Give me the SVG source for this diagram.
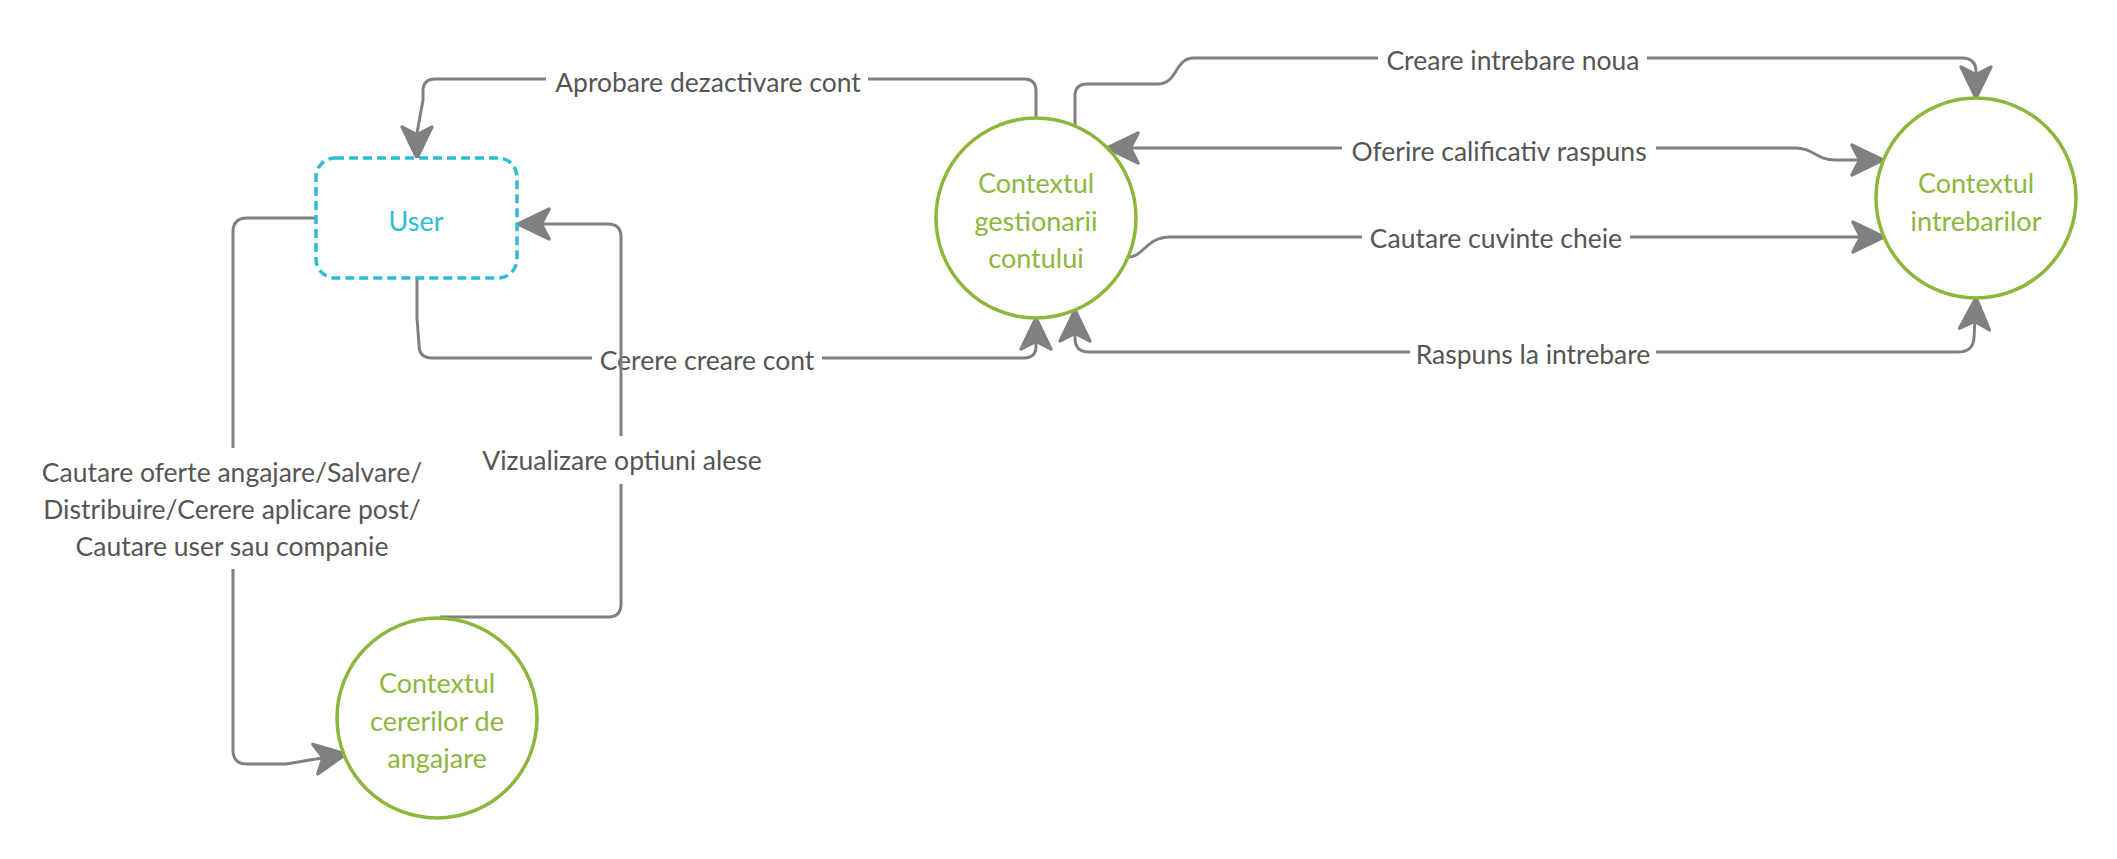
<svg xmlns="http://www.w3.org/2000/svg" width="2117" height="859" viewBox="0 0 2117 859">
<defs>
<marker id="arr" markerUnits="userSpaceOnUse" markerWidth="40" markerHeight="40" viewBox="-32 -17 36 34" refX="0" refY="0" orient="auto-start-reverse">
<path d="M0,0 L-28,-13.5 L-21,0 L-28,13.5 Z" fill="#808080" stroke="#808080" stroke-width="3" stroke-linejoin="round"/>
</marker>
</defs>
<style>
.c{fill:none;stroke:#808080;stroke-width:3;stroke-linejoin:round}
.e{marker-end:url(#arr)}
.s{marker-start:url(#arr)}
.lb{fill:#ffffff;stroke:none}
.t{font-family:Lato,"Noto Sans","Liberation Sans",sans-serif;font-size:26.5px;fill:#555555;text-anchor:middle;dominant-baseline:central}
.g{fill:#ffffff;stroke:#8DB63D;stroke-width:3.5}
.gt{font-family:Lato,"Noto Sans","Liberation Sans",sans-serif;font-size:27px;fill:#8DB63D;text-anchor:middle;dominant-baseline:central}
.u{fill:#ffffff;stroke:#2EBDCF;stroke-width:3.5;stroke-dasharray:9 5}
.ut{font-family:Lato,"Noto Sans","Liberation Sans",sans-serif;font-size:27px;fill:#2EBDCF;text-anchor:middle;dominant-baseline:central}
</style>
<rect width="2117" height="859" fill="#ffffff"/>
<g id="connectors">
<g id="c-aprobare">
<path class="c e" d="M1036,118 V91 Q1036,79 1024,79 H435 Q423,79 423,91 V100 L417,133 V158"/>
<rect class="lb" x="546" y="64" width="322" height="36"/>
<text class="t" x="708" y="82">Aprobare dezactivare cont</text>
</g>
<g id="c-cerere">
<path class="c e" d="M417,279 V318 L419,345 Q419,358 432,358 H1024 Q1036,358 1036,346 V318"/>
<rect class="lb" x="592" y="342" width="230" height="36"/>
<text class="t" x="707" y="360">Cerere creare cont</text>
</g>
<g id="c-vizualizare">
<path class="c e" d="M440,617 H608 Q621,617 621,604 V237 Q621,224 608,224 H518"/>
<rect class="lb" x="476" y="436" width="292" height="48"/>
<text class="t" x="622" y="460">Vizualizare optiuni alese</text>
</g>
<g id="c-cautare-oferte">
<path class="c e" d="M316,218 H247 Q233,218 233,232 V750 Q233,764 247,764 H286 L346,754"/>
<rect class="lb" x="34" y="448" width="397" height="121"/>
<text class="t" x="232" y="472">Cautare oferte angajare/Salvare/</text>
<text class="t" x="232" y="509">Distribuire/Cerere aplicare post/</text>
<text class="t" x="232" y="546">Cautare user sau companie</text>
</g>
<g id="c-creare">
<path class="c e" d="M1075,125 V96 Q1075,84 1087,84 H1158 C1178,84 1174,58 1194,58 H1962 Q1976,58 1976,72 V98"/>
<rect class="lb" x="1378" y="42" width="269" height="36"/>
<text class="t" x="1513" y="60">Creare intrebare noua</text>
</g>
<g id="c-oferire">
<path class="c s e" d="M1107,148 H1795 C1814,148 1816,160 1835,160 H1883"/>
<rect class="lb" x="1342" y="132" width="314" height="37"/>
<text class="t" x="1499" y="151">Oferire calificativ raspuns</text>
</g>
<g id="c-cuvinte">
<path class="c e" d="M1128,257 C1144,257 1146,237 1170,237 H1884"/>
<rect class="lb" x="1362" y="220" width="268" height="36"/>
<text class="t" x="1496" y="238">Cautare cuvinte cheie</text>
</g>
<g id="c-raspuns">
<path class="c s e" d="M1075,310 V338 Q1075,352 1089,352 H1958 Q1973,352 1974,338 L1976,298"/>
<rect class="lb" x="1410" y="336" width="246" height="36"/>
<text class="t" x="1533" y="354">Raspuns la intrebare</text>
</g>
</g>
<g id="node-user">
<rect class="u" x="316" y="158" width="201" height="120" rx="19"/>
<text class="ut" x="416" y="220">User</text>
</g>
<g id="node-gestionarii">
<circle class="g" cx="1036" cy="218" r="100"/>
<text class="gt" x="1036" y="182">Contextul</text>
<text class="gt" x="1036" y="220">gestionarii</text>
<text class="gt" x="1036" y="257">contului</text>
</g>
<g id="node-intrebarilor">
<circle class="g" cx="1976" cy="198" r="100"/>
<text class="gt" x="1976" y="182">Contextul</text>
<text class="gt" x="1976" y="220">intrebarilor</text>
</g>
<g id="node-cererilor">
<circle class="g" cx="437" cy="718" r="100"/>
<text class="gt" x="437" y="682">Contextul</text>
<text class="gt" x="437" y="720">cererilor de</text>
<text class="gt" x="437" y="757">angajare</text>
</g>
</svg>
